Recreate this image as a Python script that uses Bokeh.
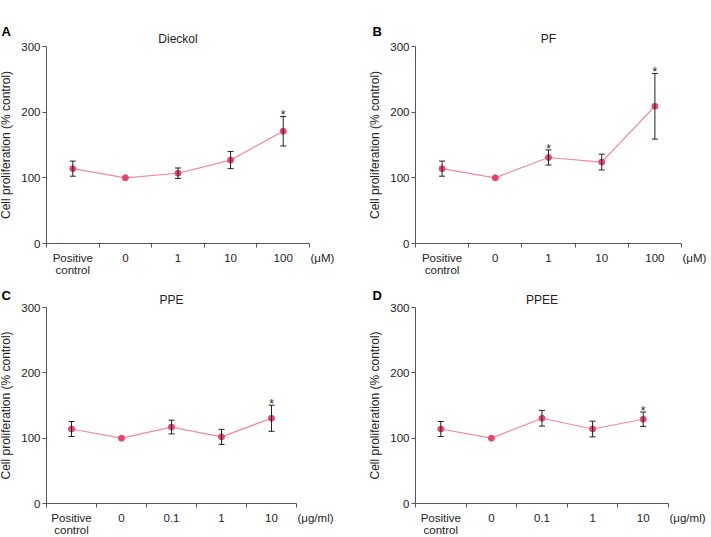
from bokeh.plotting import figure
from bokeh.layouts import row, column
from bokeh.models import (Range1d, FixedTicker, ColumnDataSource, Whisker, TeeHead)
from bokeh.core.properties import value
from bokeh.embed import file_html
from bokeh.resources import INLINE

# ---------------- data ----------------
cats_um = ["Positive\ncontrol", "0", "1", "10", "100"]
cats_ug = ["Positive\ncontrol", "0", "0.1", "1", "10"]

dieckol_mean = [114, 100, 107, 127, 171]
dieckol_err = [11.5, 0, 8, 13, 22.5]
dieckol_sig = [False, False, False, False, True]

pf_mean = [114, 100, 131, 124, 209]
pf_err = [11.5, 0, 11.5, 12, 50]
pf_sig = [False, False, True, False, True]

ppe_mean = [114, 100, 117, 102, 130.5]
ppe_err = [11.5, 0, 10.5, 11.5, 20]
ppe_sig = [False, False, False, False, True]

ppee_mean = [114, 100, 130.5, 114, 129]
ppee_err = [11.5, 0, 12, 12, 11]
ppee_sig = [False, False, False, False, True]

y_ticks = [0, 100, 200, 300]
y_label = "Cell proliferation (% control)"

FONT = "Liberation Sans"
MARKER = "#e6466e"
LINE = "#ef8aa3"
INK = "#222222"
AXIS = "#555555"


def panel(letter, title, cats, mean, err, sig, unit, W, H, x0, x1, ytop, ybot,
          letter_x, letter_dy):
    """x0/x1: pixel of the x-axis start/end, ytop/ybot: pixel of y=300 / y=0."""
    n = len(cats)
    xs = [i + 0.5 for i in range(n)]
    ylo, yhi = y_ticks[0], y_ticks[-1]
    ppx = (x1 - x0) / n
    ppy = (ybot - ytop) / (yhi - ylo)
    xr = Range1d(-x0 / ppx, n + (W - x1) / ppx)
    yr = Range1d(ylo - (H - ybot) / ppy, yhi + ytop / ppy)

    p = figure(width=W, height=H, output_backend="svg", toolbar_location=None,
               x_range=xr, y_range=yr, title=None, min_border=0)
    p.outline_line_color = None
    p.xgrid.visible = False
    p.ygrid.visible = False
    p.background_fill_color = "white"
    p.border_fill_color = "white"

    # x axis: category labels at centres, tick marks at the boundaries
    xa = p.xaxis[0]
    xa.fixed_location = ylo
    xa.bounds = (0, n)
    xa.ticker = FixedTicker(ticks=xs, minor_ticks=list(range(n + 1)))
    xa.major_label_overrides = {x: c for x, c in zip(xs, cats)}
    xa.major_tick_out = 0
    xa.major_tick_in = 0
    xa.minor_tick_out = 4
    xa.minor_tick_in = 0
    xa.minor_tick_line_color = AXIS
    xa.axis_line_color = AXIS
    xa.major_label_standoff = 4
    xa.major_label_text_font = FONT
    xa.major_label_text_font_size = "11.5px"
    xa.major_label_text_color = INK
    xa.major_label_text_line_height = 1.0

    ya = p.yaxis[0]
    ya.fixed_location = 0
    ya.bounds = (ylo, yhi)
    ya.ticker = FixedTicker(ticks=y_ticks, minor_ticks=[])
    ya.major_tick_out = 4
    ya.major_tick_in = 0
    ya.major_tick_line_color = AXIS
    ya.axis_line_color = AXIS
    ya.major_label_standoff = 2
    ya.major_label_text_font = FONT
    ya.major_label_text_font_size = "11.5px"
    ya.major_label_text_color = INK
    ya.axis_label = y_label
    ya.axis_label_text_font = FONT
    ya.axis_label_text_font_size = "12px"
    ya.axis_label_text_font_style = "normal"
    ya.axis_label_text_color = INK
    ya.axis_label_standoff = 5

    # error bars (only where there is an error)
    wx = [x for x, e in zip(xs, err) if e > 0]
    wu = [m + e for m, e in zip(mean, err) if e > 0]
    wl = [m - e for m, e in zip(mean, err) if e > 0]
    wsrc = ColumnDataSource(dict(base=wx, upper=wu, lower=wl))
    w = Whisker(base="base", upper="upper", lower="lower", source=wsrc,
                dimension="height", line_color=INK, line_width=1,
                upper_head=TeeHead(size=6, line_color=INK, line_width=1),
                lower_head=TeeHead(size=6, line_color=INK, line_width=1),
                level="glyph")
    p.add_layout(w)

    p.line(xs, mean, line_color=LINE, line_width=1.2)
    p.scatter(xs, mean, size=6, fill_color=MARKER, line_color=MARKER)

    # significance asterisks
    sx = [x for x, s in zip(xs, sig) if s]
    sy = [m + e for m, e, s in zip(mean, err, sig) if s]
    p.text(sx, sy, text=["*"] * len(sx), text_align="center",
           text_baseline="alphabetic", y_offset=-1,
           text_font=value(FONT), text_font_size="12px", text_color=INK)

    # title above the plotting area
    p.text([n / 2], [yhi], text=[title], text_align="center",
           text_baseline="alphabetic", y_offset=-8,
           text_font=value(FONT), text_font_size="12px", text_color=INK)

    # unit label at the end of the x axis
    p.text([n], [ylo], text=[unit], x_offset=1, y_offset=8,
           text_align="left", text_baseline="top",
           text_font=value(FONT), text_font_size="11.5px", text_color=INK)

    # panel letter
    p.text([0], [yhi], text=[letter], x_offset=letter_x - x0,
           y_offset=letter_dy, text_align="left", text_baseline="alphabetic",
           text_font=value(FONT), text_font_size="13px",
           text_font_style="bold", text_color="black")
    return p


pa = panel("A", "Dieckol", cats_um, dieckol_mean, dieckol_err, dieckol_sig,
           "(\u03bcM)", 360, 278, 46, 309, 46, 243, 1, -15)
pb = panel("B", "PF", cats_um, pf_mean, pf_err, pf_sig,
           "(\u03bcM)", 351, 278, 55, 321, 46, 243, 12, -15)
pc = panel("C", "PPE", cats_ug, ppe_mean, ppe_err, ppe_sig,
           "(\u03bcg/ml)", 360, 259, 46, 296, 29, 225, 1, -12)
pd = panel("D", "PPEE", cats_ug, ppee_mean, ppee_err, ppee_sig,
           "(\u03bcg/ml)", 351, 259, 55, 308, 29, 225, 12, -12)

p = column(row(pa, pb, spacing=0), row(pc, pd, spacing=0), spacing=0)

open("out.html", "w").write(file_html(p, INLINE))
